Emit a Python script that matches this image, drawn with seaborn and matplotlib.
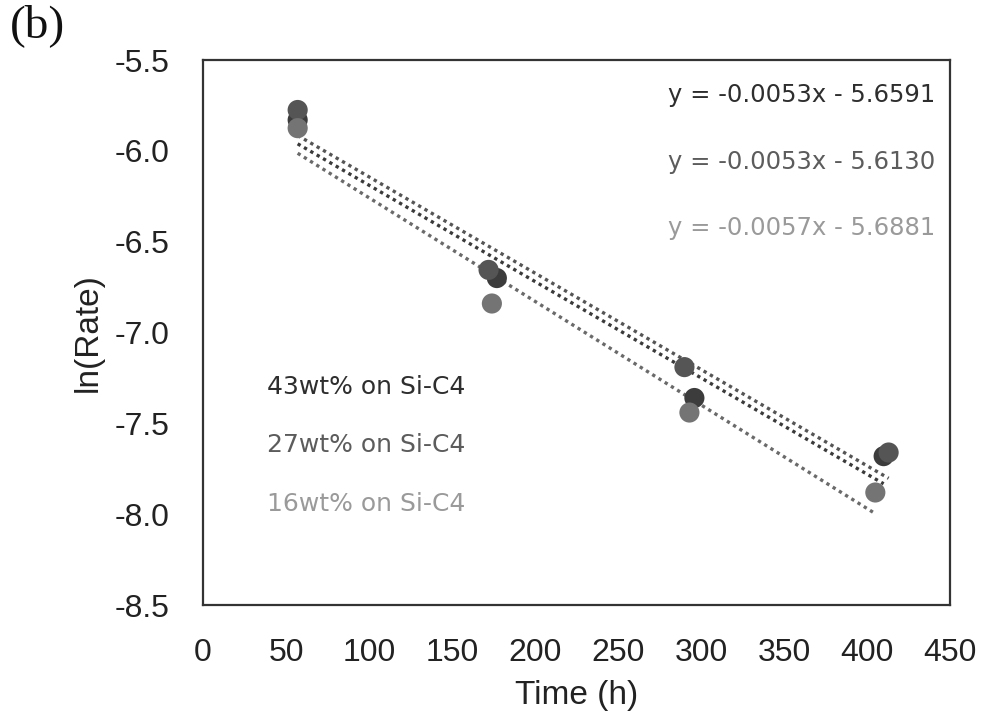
import numpy as np
import pandas as pd
import matplotlib
matplotlib.use('Agg')
import matplotlib.pyplot as plt
import seaborn as sns

# data
series = ['43wt% on Si-C4', '27wt% on Si-C4', '16wt% on Si-C4']
time_43 = [57, 177, 296, 410]
rate_43 = [-5.83, -6.70, -7.36, -7.68]
time_27 = [57, 172, 290, 413]
rate_27 = [-5.775, -6.655, -7.19, -7.66]
time_16 = [57, 174, 293, 405]
rate_16 = [-5.875, -6.84, -7.44, -7.88]

# linear fits as printed on the chart
slopes = [-0.0053, -0.0053, -0.0057]
intercepts = [-5.6591, -5.6130, -5.6881]
equations = ['y = -0.0053x - 5.6591', 'y = -0.0053x - 5.6130', 'y = -0.0057x - 5.6881']

x_ticks = [0, 50, 100, 150, 200, 250, 300, 350, 400, 450]
y_ticks = [-5.5, -6.0, -6.5, -7.0, -7.5, -8.0, -8.5]

sns.set_style('white')
plt.rcParams['font.family'] = ['Liberation Sans', 'DejaVu Sans']

data = pd.concat([
    pd.DataFrame({'Time': time_43, 'lnRate': rate_43, 'Sample': series[0]}),
    pd.DataFrame({'Time': time_27, 'lnRate': rate_27, 'Sample': series[1]}),
    pd.DataFrame({'Time': time_16, 'lnRate': rate_16, 'Sample': series[2]}),
])

marker_colors = ['#3c3c3c', '#555555', '#747474']
line_colors = ['#3a3a3a', '#555555', '#6a6a6a']
text_colors = ['#2e2e2e', '#5c5c5c', '#9a9a9a']

fig = plt.figure(figsize=(9.89, 7.23), dpi=100)
ax = fig.add_axes([0.2053, 0.163, 0.7553, 0.754])

# trend lines over the range of each series
for i, name in enumerate(series):
    sub = data[data['Sample'] == name]
    xs = np.array([sub['Time'].min(), sub['Time'].max()])
    ys = slopes[i] * xs + intercepts[i]
    sns.lineplot(x=xs, y=ys, ax=ax, color=line_colors[i], linestyle=(0, (1, 1.2)),
                 linewidth=2.4, zorder=2)

sns.scatterplot(data=data, x='Time', y='lnRate', hue='Sample', palette=marker_colors,
                s=210, edgecolor='none', ax=ax, legend=False, zorder=3)

ax.set_xlim(0, 450)
ax.set_ylim(-8.5, -5.5)
ax.set_xticks(x_ticks)
ax.set_yticks(y_ticks)
ax.set_yticklabels([f'{v:.1f}' for v in y_ticks])
ax.tick_params(axis='both', length=0, labelsize=23, colors='#222222')
ax.tick_params(axis='y', pad=24)
ax.tick_params(axis='x', pad=24)
for side in ax.spines.values():
    side.set_color('#333333')
    side.set_linewidth(1.6)

ax.set_xlabel('Time (h)', fontsize=24, color='#222222', labelpad=8)
ax.set_ylabel('ln(Rate)', fontsize=24, color='#222222', labelpad=8)

# equations, top right
for i, eq in enumerate(equations):
    ax.text(0.98, 0.935 - i * 0.122, eq, transform=ax.transAxes, ha='right', va='center',
            fontsize=17.5, family=['DejaVu Sans'], color=text_colors[i])

# sample labels, lower left
for i, name in enumerate(series):
    ax.text(0.086, 0.40 - i * 0.107, name, transform=ax.transAxes, ha='left', va='center',
            fontsize=18, family=['DejaVu Sans'], color=text_colors[i])

fig.text(0.01, 0.965, '(b)', fontsize=34, family=['Liberation Serif', 'DejaVu Serif'],
         color='#111111', va='center')

fig.savefig('out.png', dpi=100)
